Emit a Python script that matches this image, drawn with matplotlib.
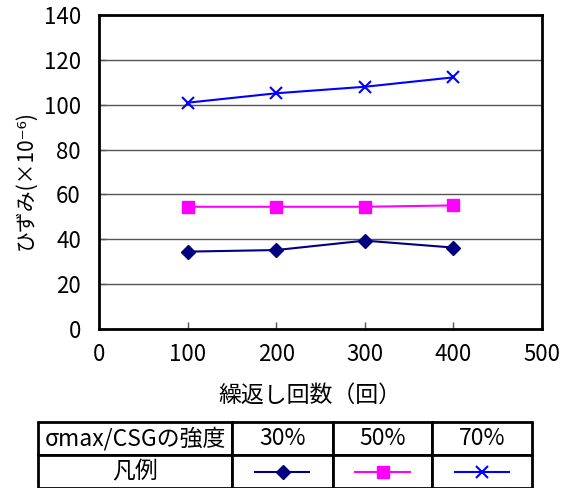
import matplotlib
matplotlib.use("Agg")
import matplotlib.pyplot as plt

plt.rcParams['font.family'] = ['Noto Sans CJK JP', 'DejaVu Sans']

cycles = [100, 200, 300, 400]
strain_30 = [34.5, 35.2, 39.4, 36.3]
strain_50 = [54.5, 54.5, 54.5, 55.1]
strain_70 = [100.9, 105.1, 108.0, 112.2]

ratio_labels = ['30%', '50%', '70%']
header_label = 'σmax/CSGの強度'
legend_label = '凡例'

x_ticks = [0, 100, 200, 300, 400, 500]
y_ticks = [0, 20, 40, 60, 80, 100, 120, 140]

styles = [
    dict(color='#000080', marker='D', markersize=7.5),
    dict(color='#FF00FF', marker='s', markersize=8),
    dict(color='#0000FF', marker='x', markersize=9, markeredgewidth=1.5),
]

fig = plt.figure(figsize=(5.63, 4.88), dpi=100)
ax = fig.add_axes([99 / 563, 1 - 329 / 488, 443 / 563, 314 / 488])

for ys, st in zip([strain_30, strain_50, strain_70], styles):
    ax.plot(cycles, ys, linewidth=1.5, **st)

ax.set_xlim(0, 500)
ax.set_ylim(0, 140)
ax.set_xticks(x_ticks)
ax.set_yticks(y_ticks)
ax.yaxis.grid(True, color='#555555', linewidth=1)
ax.set_axisbelow(True)
for s in ax.spines.values():
    s.set_linewidth(2)
    s.set_color('black')
ax.tick_params(axis='both', direction='in', labelsize=16, length=5, width=1, color='#555555')
ax.tick_params(axis='x', pad=10)
ax.tick_params(axis='y', pad=13)

ax.set_ylabel('ひずみ(×10⁻⁶)', fontsize=15)
ax.yaxis.set_label_coords(-0.167, 0.475)
ax.set_xlabel('繰返し回数（回）', fontsize=16.5)
ax.xaxis.set_label_coords(0.476, -0.21)
ax.xaxis.label.set_va('center')
ax.yaxis.label.set_va('center')

# table with legend samples
tax = fig.add_axes([38 / 563, 0, 494 / 563, 66 / 488])
tax.axis('off')
col_w = [194, 101, 99, 100]
tbl = tax.table(cellText=[[header_label] + ratio_labels, [legend_label, '', '', '']],
                colWidths=[w / sum(col_w) for w in col_w], cellLoc='center',
                bbox=[0, 0, 1, 1])
tbl.auto_set_font_size(False)
for (r, c), cell in tbl.get_celld().items():
    cell.set_linewidth(2)
    cell.set_edgecolor('black')
    cell.get_text().set_fontsize(16.5)

edges = [0]
for w in col_w:
    edges.append(edges[-1] + w)
for i, st in enumerate(styles):
    cx = (edges[i + 1] + edges[i + 2]) / 2 / sum(col_w)
    half = 27 / sum(col_w)
    tax.plot([cx - half, cx, cx + half], [0.25, 0.25, 0.25], transform=tax.transAxes,
             linewidth=1.5, markevery=[1], clip_on=False, **st)

fig.savefig('out.png', dpi=100)
